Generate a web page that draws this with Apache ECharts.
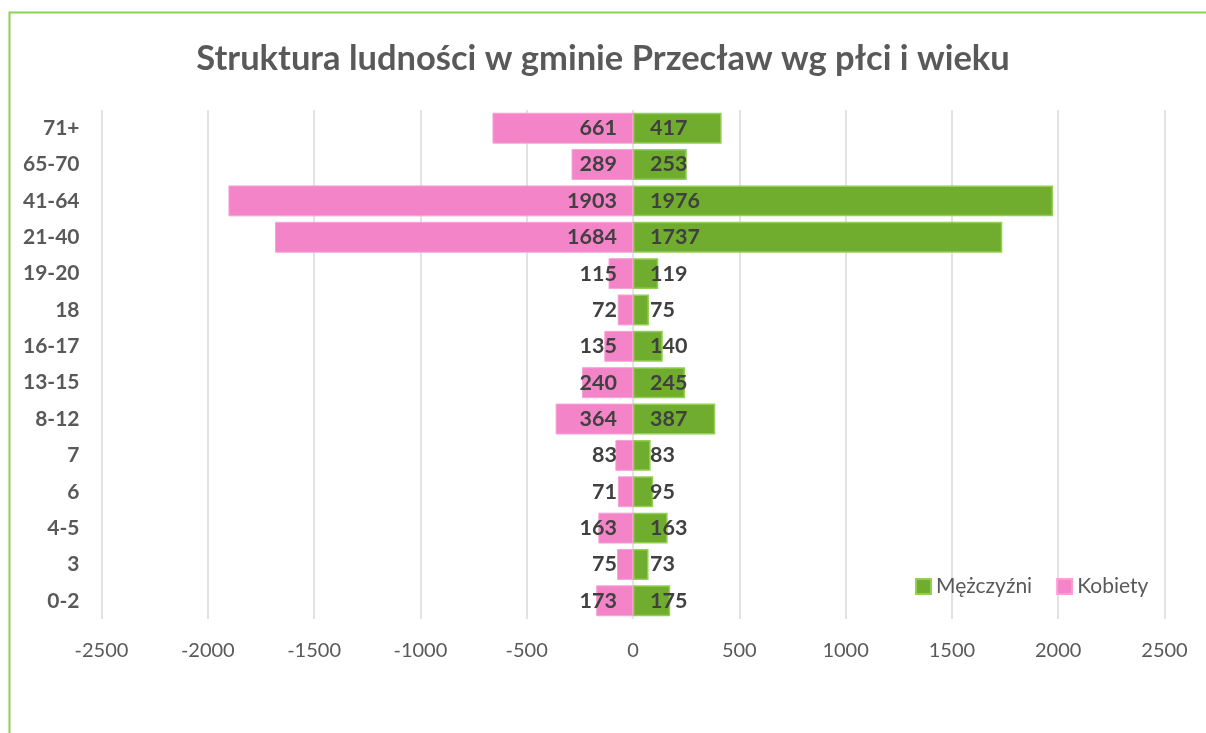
<!DOCTYPE html>
<html><head><meta charset="utf-8">
<script src="https://cdn.jsdelivr.net/npm/echarts@6/dist/echarts.min.js"></script>
<style>html,body{margin:0;padding:0;background:#fff;}#c{width:1206px;height:733px;}</style>
</head><body><div id="c"></div>
<script>
const categories = ['0-2','3','4-5','6','7','8-12','13-15','16-17','18','19-20','21-40','41-64','65-70','71+'];
const kobiety = [173,75,163,71,83,364,240,135,72,115,1684,1903,289,661];
const mezczyzni = [175,73,163,95,83,387,245,140,75,119,1737,1976,253,417];
const xTicks = {min:-2500, max:2500, interval:500};
const titleText = 'Struktura ludności w gminie Przecław wg płci i wieku';

const FONT = 'Lato';
const chart = echarts.init(document.getElementById('c'), null, {renderer:'canvas'});
chart.setOption({
  animation:false,
  backgroundColor:'#fff',
  title:{text:titleText,left:'center',top:36,textStyle:{fontFamily:FONT,fontWeight:'bold',fontSize:34.5,color:'#595959'}},
  graphic:[{type:'rect',left:7,top:10,shape:{width:1250,height:800},style:{fill:'none',stroke:'#92D050',lineWidth:2},silent:true,z:-1}],
  legend:{left:910,top:571,itemWidth:15,itemHeight:15,itemGap:24,icon:'rect',
    textStyle:{fontFamily:FONT,fontSize:21,color:'#595959'},
    data:[{name:'Mężczyźni'},{name:'Kobiety'}]},
  grid:{left:101.5,right:41.5,top:110,bottom:114,containLabel:false},
  xAxis:{type:'value',min:xTicks.min,max:xTicks.max,interval:xTicks.interval,
    axisLine:{show:false},axisTick:{show:false},
    splitLine:{show:true,lineStyle:{color:'#d9d9d9',width:1.5}},
    axisLabel:{margin:22,fontFamily:FONT,fontSize:20,color:'#595959',formatter:v=>String(v)}},
  yAxis:{type:'category',data:categories,
    axisLine:{show:false},axisTick:{show:false},
    axisLabel:{margin:22,fontFamily:FONT,fontSize:21,fontWeight:'bold',color:'#595959'}},
  series:[
    {name:'Kobiety',type:'bar',stack:'s',data:kobiety.map(v=>-v),barCategoryGap:'15%',
     itemStyle:{color:'#F484C8',borderColor:'#F7A1D5',borderWidth:1},
     label:{show:true,position:'insideRight',distance:16,formatter:p=>Math.abs(p.value),
       fontFamily:FONT,fontSize:21.5,fontWeight:'bold',color:'#404040'}},
    {name:'Mężczyźni',type:'bar',stack:'s',data:mezczyzni,barCategoryGap:'15%',
     itemStyle:{color:'#70AD2F',borderColor:'#92D050',borderWidth:1.5},
     label:{show:true,position:'insideLeft',distance:17,
       fontFamily:FONT,fontSize:21.5,fontWeight:'bold',color:'#404040'}}
  ]
});
</script></body></html>
